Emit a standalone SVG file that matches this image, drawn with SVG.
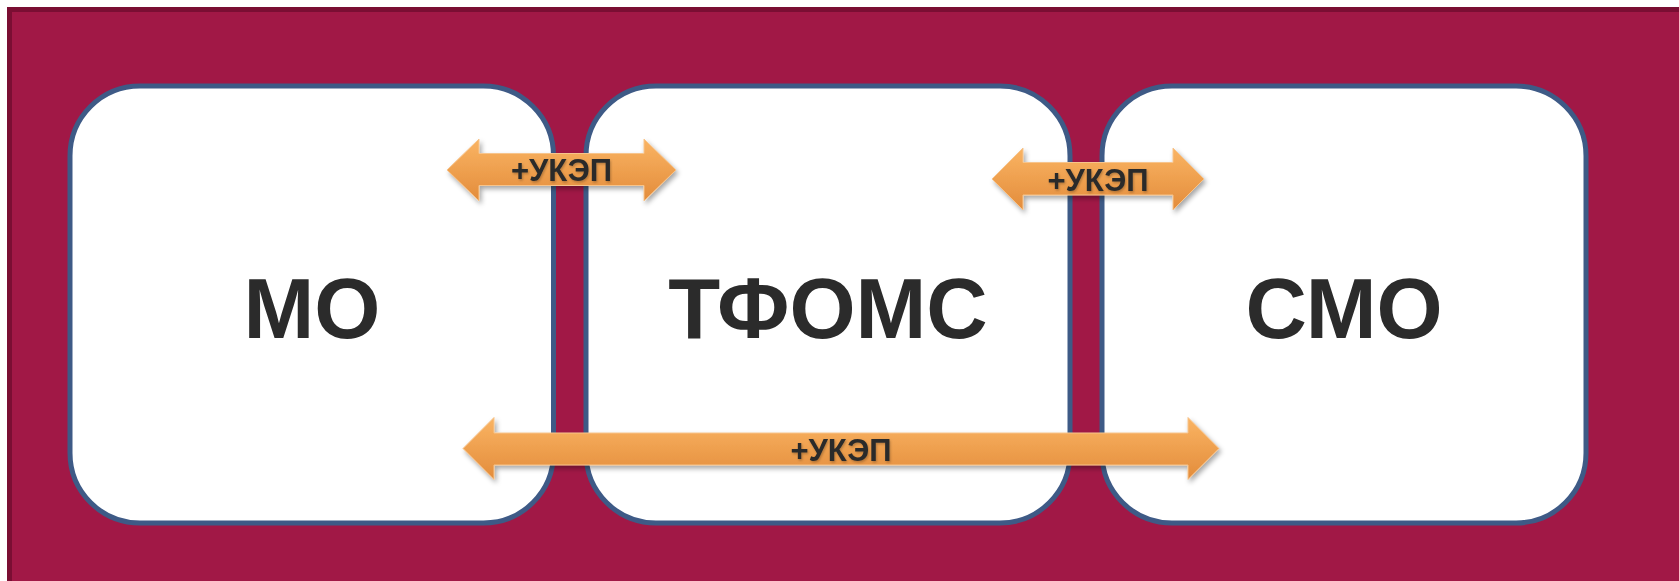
<svg xmlns="http://www.w3.org/2000/svg" width="1679" height="581" viewBox="0 0 1679 581">
  <style>
    .box { fill: #ffffff; stroke: #3e5a86; stroke-width: 5; }
    .big { font-family: "Liberation Sans", Arial, sans-serif; font-weight: bold; font-size: 85px; fill: #2b2b2b; text-anchor: middle; }
    .arrow { fill: url(#og); stroke: #f7c48c; stroke-width: 1; filter: url(#sh); }
    .lbl { font-family: "Liberation Sans", Arial, sans-serif; font-weight: bold; font-size: 31px; fill: #2b2b2b; text-anchor: middle; filter: url(#tsh); }
  </style>
  <defs>
    <linearGradient id="og" x1="0" y1="0" x2="0" y2="1">
      <stop offset="0" stop-color="#fab463"/>
      <stop offset="1" stop-color="#e38c3b"/>
    </linearGradient>
    <filter id="sh" x="-10%" y="-30%" width="120%" height="170%">
      <feDropShadow dx="2" dy="3" stdDeviation="2.5" flood-color="#000000" flood-opacity="0.35"/>
    </filter>
    <filter id="tsh" x="-10%" y="-30%" width="120%" height="160%">
      <feDropShadow dx="1" dy="1.5" stdDeviation="1" flood-color="#000000" flood-opacity="0.25"/>
    </filter>
  </defs>
  <rect x="0" y="0" width="1679" height="581" fill="#ffffff"/>
  <rect x="7" y="7" width="1680" height="580" fill="#7a0e33"/>
  <rect x="12" y="12" width="1680" height="580" fill="#a11846"/>

  <g id="node-mo">
    <rect class="box" x="70" y="86" width="483.5" height="437" rx="70" ry="70"/>
    <text class="big" x="312" y="338">МО</text>
  </g>
  <g id="node-tfoms">
    <rect class="box" x="586" y="86" width="484" height="437" rx="70" ry="70"/>
    <text class="big" x="828" y="338">ТФОМС</text>
  </g>
  <g id="node-smo">
    <rect class="box" x="1102" y="86" width="484" height="437" rx="70" ry="70"/>
    <text class="big" x="1344" y="338">СМО</text>
  </g>

  <g id="connectors">
    <g id="arrow-mo-tfoms">
      <path class="arrow" d="M447,170 L479,139 L479,153.5 L644,153.5 L644,139 L676,170 L644,201 L644,185.5 L479,185.5 L479,201 Z"/>
      <text class="lbl" x="561.5" y="181">+УКЭП</text>
    </g>
    <g id="arrow-tfoms-smo">
      <path class="arrow" d="M992,179 L1023,148 L1023,162.5 L1173,162.5 L1173,148 L1204,179 L1173,210 L1173,195 L1023,195 L1023,210 Z"/>
      <text class="lbl" x="1098" y="191">+УКЭП</text>
    </g>
    <g id="arrow-mo-smo">
      <path class="arrow" d="M463,448.5 L494,417.5 L494,433 L1188,433 L1188,417.5 L1219,448.5 L1188,479.5 L1188,465 L494,465 L494,479.5 Z"/>
      <text class="lbl" x="841" y="461">+УКЭП</text>
    </g>
  </g>
</svg>
